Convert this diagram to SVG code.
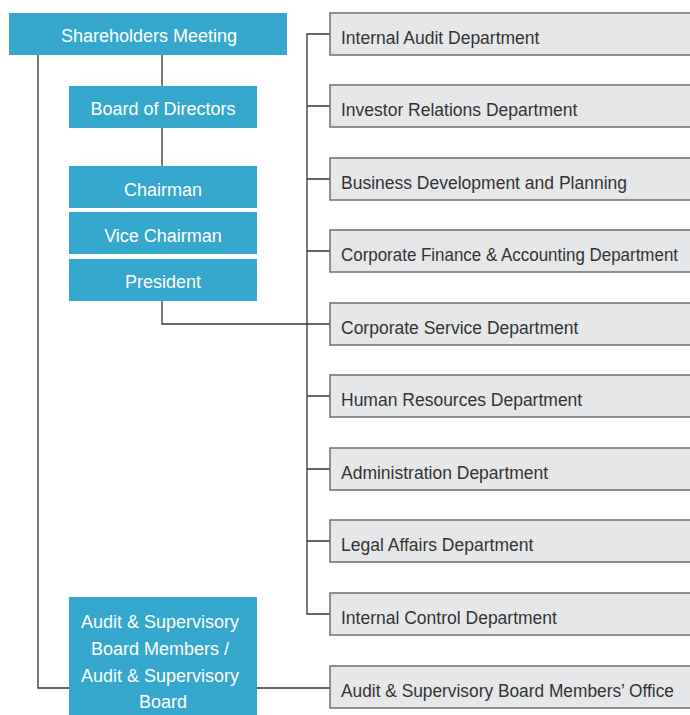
<svg xmlns="http://www.w3.org/2000/svg" width="690" height="715" viewBox="0 0 690 715">
<style>
.blue{fill:#36a8cd}
.dept{fill:#e6e7e8;stroke:#6f6f6f;stroke-width:1.5}
.wt{fill:#ffffff;font-family:"Liberation Sans",Arial,sans-serif;font-size:18px;text-anchor:middle}
.dt{fill:#333333;font-family:"Liberation Sans",Arial,sans-serif;font-size:17.5px}
.ln{fill:none;stroke:#333333;stroke-width:1.3}
</style>
<rect width="690" height="715" fill="#ffffff"/>
<g id="connectors">
<path class="ln" d="M38 55 V688 H69"/>
<path class="ln" d="M162 55 V86"/>
<path class="ln" d="M162 128 V166"/>
<path class="ln" d="M162 301 V324 H330"/>
<path class="ln" d="M257 688 H330"/>
<path class="ln" d="M330 34 H307 V614 H330"/>
<path class="ln" d="M307 106 H330 M307 179 H330 M307 251 H330 M307 396 H330 M307 469 H330 M307 541 H330"/>
</g>
<g id="shareholders"><rect class="blue" x="9" y="13" width="278" height="42"/><text class="wt" x="149" y="42">Shareholders Meeting</text></g>
<g id="board"><rect class="blue" x="69" y="86" width="188" height="42"/><text class="wt" x="163" y="115">Board of Directors</text></g>
<g id="chairman"><rect class="blue" x="69" y="166" width="188" height="42"/><text class="wt" x="163" y="196">Chairman</text></g>
<g id="vice"><rect class="blue" x="69" y="212" width="188" height="42"/><text class="wt" x="163" y="242">Vice Chairman</text></g>
<g id="president"><rect class="blue" x="69" y="259" width="188" height="42"/><text class="wt" x="163" y="288">President</text></g>
<g id="audit-board"><rect class="blue" x="69" y="597" width="188" height="120"/>
<text class="wt" x="160" y="628">Audit &amp; Supervisory</text>
<text class="wt" x="160" y="655">Board Members /</text>
<text class="wt" x="160" y="682">Audit &amp; Supervisory</text>
<text class="wt" x="163" y="708">Board</text></g>
<g id="d1"><rect class="dept" x="330" y="13" width="370" height="42"/><text class="dt" x="341" y="43.5">Internal Audit Department</text></g>
<g id="d2"><rect class="dept" x="330" y="85" width="370" height="42"/><text class="dt" x="341" y="115.5">Investor Relations Department</text></g>
<g id="d3"><rect class="dept" x="330" y="158" width="370" height="42"/><text class="dt" x="341" y="188.5">Business Development and Planning</text></g>
<g id="d4"><rect class="dept" x="330" y="230" width="370" height="42"/><text class="dt" x="341" y="260.5" textLength="337" lengthAdjust="spacingAndGlyphs">Corporate Finance &amp; Accounting Department</text></g>
<g id="d5"><rect class="dept" x="330" y="303" width="370" height="42"/><text class="dt" x="341" y="333.5">Corporate Service Department</text></g>
<g id="d6"><rect class="dept" x="330" y="375" width="370" height="42"/><text class="dt" x="341" y="405.5">Human Resources Department</text></g>
<g id="d7"><rect class="dept" x="330" y="448" width="370" height="42"/><text class="dt" x="341" y="478.5">Administration Department</text></g>
<g id="d8"><rect class="dept" x="330" y="520" width="370" height="42"/><text class="dt" x="341" y="550.5">Legal Affairs Department</text></g>
<g id="d9"><rect class="dept" x="330" y="593" width="370" height="42"/><text class="dt" x="341" y="623.5">Internal Control Department</text></g>
<g id="d10"><rect class="dept" x="330" y="666" width="370" height="42"/><text class="dt" x="341" y="696.5" textLength="333" lengthAdjust="spacingAndGlyphs">Audit &amp; Supervisory Board Members’ Office</text></g>
</svg>
